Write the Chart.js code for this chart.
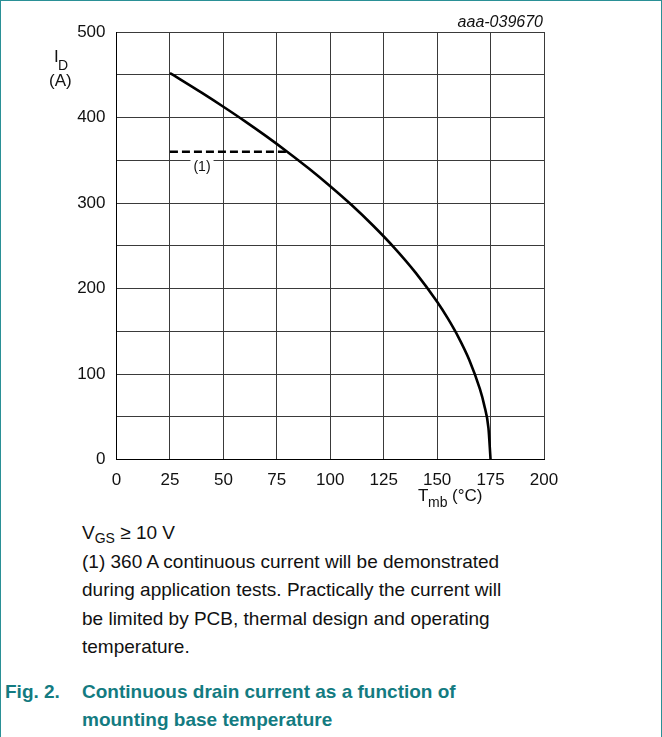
<!DOCTYPE html>
<html>
<head>
<meta charset="utf-8">
<script src="https://cdn.jsdelivr.net/npm/chart.js@4.4.1/dist/chart.umd.min.js"></script>
<style>
  html, body { margin: 0; padding: 0; background: #fff; }
  body { width: 662px; height: 737px; position: relative; overflow: hidden; font-family: 'Liberation Sans', Arial, sans-serif; }
  .frame { position: absolute; left: 0; top: 0; width: 660px; height: 745px; border: 1px solid #2a9096; }
  #wrap { position: absolute; left: 0; top: 0; width: 662px; height: 510px; }
  .notes { position: absolute; left: 82px; top: 519px; font-size: 19px; line-height: 28.5px; color: #111; white-space: nowrap; }
  .notes sub { font-size: 14px; vertical-align: -4px; line-height: 0; }
  .caption { position: absolute; left: 5px; top: 678px; width: 640px; font-size: 19px; line-height: 28px; font-weight: bold; color: #137b81; white-space: nowrap; }
  .caption .num { position: absolute; left: 0; top: 0; }
  .caption .txt { position: absolute; left: 77px; top: 0; }
</style>
</head>
<body>
<div class="frame"></div>
<div id="wrap"><canvas id="chart" width="662" height="510"></canvas></div>
<div class="notes">
  V<sub>GS</sub> ≥ 10 V<br>
  (1) 360 A continuous current will be demonstrated<br>
  during application tests. Practically the current will<br>
  be limited by PCB, thermal design and operating<br>
  temperature.
</div>
<div class="caption">
  <span class="num">Fig. 2.</span>
  <span class="txt">Continuous drain current as a function of<br>mounting base temperature</span>
</div>
<script>
  // derating curve
  const tmb = [25, 30, 40, 50, 60, 70, 80, 90, 100, 110, 120, 130, 140, 150, 155, 160, 165, 170, 172, 174, 175];
  const idCurve = [452, 444.4, 428.8, 412.6, 395.8, 378.2, 359.7, 340.3, 319.6, 297.6, 273.7, 247.6, 218.3, 184.5, 165, 142.9, 116.7, 82.5, 63.9, 36.9, 0];

  // (1) package limit
  const limitT = [25, 80];
  const limitI = [360, 360];

  const xTicks = [0, 25, 50, 75, 100, 125, 150, 175, 200];
  const yLabels = [0, 100, 200, 300, 400, 500];

  const FONT = "'Liberation Sans', Arial, sans-serif";

  const annotations = {
    id: 'annotations',
    afterDraw(chart) {
      const { ctx, scales: { x, y } } = chart;
      ctx.save();
      ctx.fillStyle = '#111';

      // (1) label with white backing over the grid
      ctx.font = '14px ' + FONT;
      ctx.textAlign = 'center';
      ctx.textBaseline = 'middle';
      const lx = x.getPixelForValue(40);
      const ly = y.getPixelForValue(350) + 7;
      const w = ctx.measureText('(1)').width;
      ctx.fillStyle = '#fff';
      ctx.fillRect(lx - w / 2 - 3, ly - 8, w + 6, 9);
      ctx.fillStyle = '#111';
      ctx.fillText('(1)', lx, ly);

      // y title
      ctx.textAlign = 'left';
      ctx.textBaseline = 'alphabetic';
      ctx.font = '17px ' + FONT;
      ctx.fillText('I', 54, 62);
      ctx.font = '14px ' + FONT;
      ctx.fillText('D', 58, 70);
      ctx.font = '17px ' + FONT;
      ctx.fillText('(A)', 49, 86);

      // x title
      ctx.fillText('T', 418, 501);
      ctx.font = '14px ' + FONT;
      ctx.fillText('mb', 428, 507);
      ctx.font = '17px ' + FONT;
      ctx.fillText('(°C)', 452, 501);

      // figure id
      ctx.font = 'italic 16px ' + FONT;
      ctx.textAlign = 'right';
      ctx.fillText('aaa-039670', 543, 27);
      ctx.restore();
    }
  };

  new Chart(document.getElementById('chart'), {
    type: 'scatter',
    data: {
      datasets: [
        {
          data: tmb.map((t, i) => ({ x: t, y: idCurve[i] })),
          showLine: true,
          borderColor: '#000',
          borderWidth: 2.6,
          pointRadius: 0,
          cubicInterpolationMode: 'monotone',
        },
        {
          data: limitT.map((t, i) => ({ x: t, y: limitI[i] })),
          showLine: true,
          borderColor: '#000',
          borderWidth: 2.4,
          borderDash: [8, 4],
          pointRadius: 0,
        },
      ],
    },
    options: {
      responsive: false,
      animation: false,
      layout: { padding: { top: 32, right: 118, bottom: 0, left: 0 } },
      plugins: { legend: { display: false }, tooltip: { enabled: false } },
      scales: {
        x: {
          type: 'linear',
          min: 0,
          max: 200,
          afterBuildTicks: s => { s.ticks = xTicks.map(v => ({ value: v })); },
          afterFit: s => { s.height = 510 - 459.5; },
          grid: { color: '#3a3a3a', lineWidth: 1, drawTicks: false },
          border: { color: '#000', width: 1 },
          ticks: { color: '#111', padding: 11, font: { size: 17, family: FONT }, maxRotation: 0 },
        },
        y: {
          type: 'linear',
          min: 0,
          max: 500,
          ticks: {
            stepSize: 50,
            color: '#111',
            padding: 11,
            font: { size: 17, family: FONT },
            callback: v => (yLabels.includes(v) ? String(v) : ''),
          },
          afterFit: s => { s.width = 116.5; },
          grid: { color: '#3a3a3a', lineWidth: 1, drawTicks: false },
          border: { color: '#000', width: 1 },
        },
      },
    },
    plugins: [annotations],
  });
</script>
</body>
</html>
